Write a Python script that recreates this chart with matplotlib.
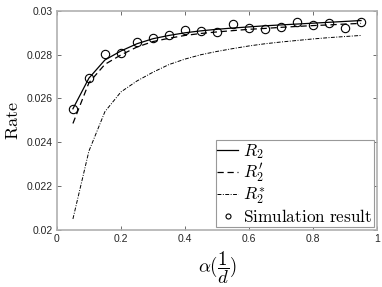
import matplotlib
matplotlib.use("Agg")
import matplotlib.pyplot as plt

plt.rcParams['mathtext.fontset'] = 'cm'

alpha = [0.05, 0.10, 0.15, 0.20, 0.25, 0.30, 0.35, 0.40, 0.45, 0.50,
         0.55, 0.60, 0.65, 0.70, 0.75, 0.80, 0.85, 0.90, 0.95]
r2 = [0.02553, 0.02693, 0.02776, 0.02817, 0.02850, 0.02873, 0.02888, 0.02900,
      0.02909, 0.02916, 0.02922, 0.02927, 0.02932, 0.02936, 0.02940, 0.02944,
      0.02948, 0.02952, 0.02956]
r2_prime = [0.02486, 0.02672, 0.02756, 0.02799, 0.02835, 0.02860, 0.02875,
            0.02888, 0.02897, 0.02904, 0.02910, 0.02916, 0.02920, 0.02925,
            0.02929, 0.02933, 0.02936, 0.02940, 0.02943]
r2_star = [0.02050, 0.02360, 0.02540, 0.02630, 0.02680, 0.02720, 0.02755,
           0.02780, 0.02800, 0.02815, 0.02828, 0.02840, 0.02850, 0.02858,
           0.02865, 0.02872, 0.02878, 0.02883, 0.02888]
sim = [0.02553, 0.02695, 0.02802, 0.02809, 0.02857, 0.02878, 0.02892, 0.02914,
       0.02908, 0.02904, 0.02942, 0.02921, 0.02918, 0.02927, 0.02951, 0.02936,
       0.02946, 0.02924, 0.02950]

xticks = [0, 0.2, 0.4, 0.6, 0.8, 1]
xticklabels = ['0', '0.2', '0.4', '0.6', '0.8', '1']
yticks = [0.020, 0.022, 0.024, 0.026, 0.028, 0.030]
yticklabels = ['0.02', '0.022', '0.024', '0.026', '0.028', '0.03']

fig = plt.figure(figsize=(3.82, 2.87), dpi=100)
ax = fig.add_axes([0.149, 0.199, 0.838, 0.763])

ax.plot(alpha, r2, color='black', lw=0.9, label=r'$R_2$')
ax.plot(alpha, r2_prime, color='black', lw=0.9, linestyle=(0, (5, 3)), label=r"$R_2'$")
ax.plot(alpha, r2_star, color='black', lw=0.7, linestyle=(0, (4, 1.5, 1, 1.5)), label=r'$R_2^{*}$')
ax.plot(alpha, sim, linestyle='none', marker='o', markersize=6, markerfacecolor='none',
        markeredgecolor='black', markeredgewidth=0.8, label=r'$\mathrm{Simulation\ result}$')

ax.set_xlim(0, 1)
ax.set_ylim(0.02, 0.03)
ax.set_xticks(xticks)
ax.set_xticklabels(xticklabels, fontfamily='Liberation Sans', fontsize=7.5, color='#262626')
ax.set_yticks(yticks)
ax.set_yticklabels(yticklabels, fontfamily='Liberation Sans', fontsize=7.5, color='#262626')
ax.tick_params(direction='in', length=3, width=0.6, color='#555555', top=True, right=True, pad=3)
for s in ax.spines.values():
    s.set_color('#b0b0b0')
    s.set_linewidth(1.2)

ax.set_ylabel(r'$\mathrm{Rate}$', fontsize=13, labelpad=3)
ax.set_xlabel(r'$\alpha(\dfrac{1}{d})$', fontsize=13.5, labelpad=4)

leg = ax.legend(loc='lower right', fontsize=12.4, handlelength=1.2, handletextpad=0.3,
                borderaxespad=0.15, borderpad=0.1, labelspacing=0.05, fancybox=False,
                framealpha=1, edgecolor='#999999', markerscale=0.6)
leg.get_frame().set_linewidth(0.8)

fig.savefig('out.png', dpi=100)
